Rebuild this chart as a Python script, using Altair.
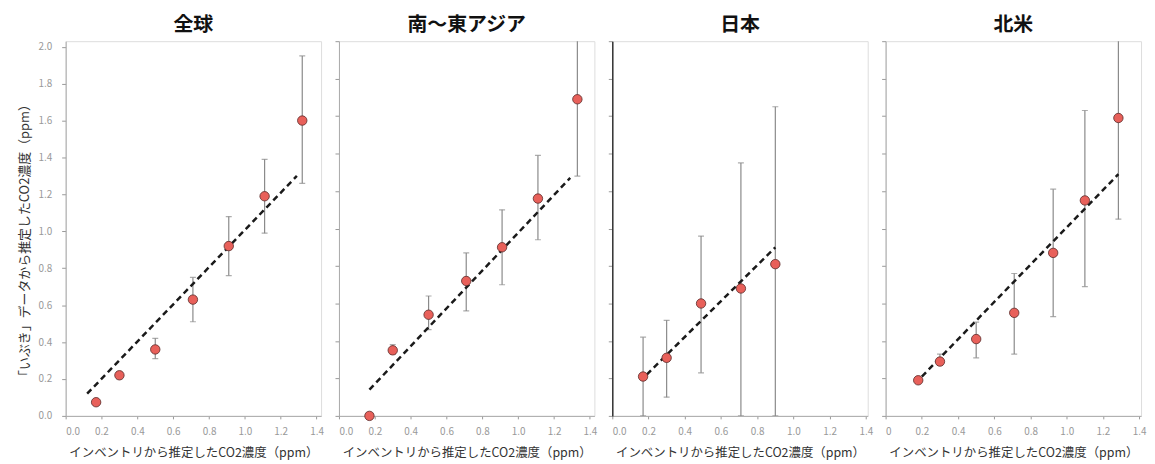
import altair as alt
import pandas as pd

regions = ["全球", "南～東アジア", "日本", "北米"]

# 全球
glob_x = [0.17, 0.30, 0.50, 0.71, 0.91, 1.11, 1.32]
glob_y = [0.074, 0.22, 0.36, 0.63, 0.92, 1.19, 1.60]
glob_lo = [0.06, 0.20, 0.31, 0.51, 0.76, 0.99, 1.26]
glob_hi = [0.09, 0.24, 0.42, 0.75, 1.08, 1.39, 1.95]
glob_fit_x = [0.12, 1.29]
glob_fit_y = [0.12, 1.30]

# 南～東アジア
sea_x = [0.17, 0.30, 0.50, 0.71, 0.91, 1.11, 1.33]
sea_y = [0.00, 0.35, 0.54, 0.72, 0.90, 1.16, 1.69]
sea_lo = [0.00, 0.33, 0.46, 0.56, 0.70, 0.94, 1.28]
sea_hi = [0.01, 0.38, 0.64, 0.87, 1.10, 1.39, 2.20]
sea_fit_x = [0.17, 1.29]
sea_fit_y = [0.14, 1.27]

# 日本
jpn_x = [0.17, 0.30, 0.49, 0.71, 0.90]
jpn_y = [0.21, 0.31, 0.60, 0.68, 0.81]
jpn_lo = [0.00, 0.10, 0.23, 0.00, 0.00]
jpn_hi = [0.42, 0.51, 0.96, 1.35, 1.65]
jpn_fit_x = [0.19, 0.90]
jpn_fit_y = [0.22, 0.90]

# 北米
na_x = [0.18, 0.30, 0.50, 0.71, 0.925, 1.10, 1.285]
na_y = [0.19, 0.29, 0.41, 0.55, 0.87, 1.15, 1.59]
na_lo = [0.18, 0.27, 0.31, 0.33, 0.53, 0.69, 1.05]
na_hi = [0.20, 0.33, 0.50, 0.76, 1.21, 1.63, 2.20]
na_fit_x = [0.20, 1.285]
na_fit_y = [0.21, 1.29]

x_ticks = [0.0, 0.2, 0.4, 0.6, 0.8, 1.0, 1.2, 1.4]
y_ticks = [0.0, 0.2, 0.4, 0.6, 0.8, 1.0, 1.2, 1.4, 1.6, 1.8, 2.0]

x_title = "インベントリから推定したCO2濃度（ppm）"
y_title = "「いぶき」データから推定したCO2濃度（ppm）"

FONT = "Noto Sans CJK JP"

panels = [
    (regions[0], glob_x, glob_y, glob_lo, glob_hi, glob_fit_x, glob_fit_y, 1.425, 2.03, True, "#aaaaaa", False),
    (regions[1], sea_x, sea_y, sea_lo, sea_hi, sea_fit_x, sea_fit_y, 1.425, 2.0, False, "#aaaaaa", False),
    (regions[2], jpn_x, jpn_y, jpn_lo, jpn_hi, jpn_fit_x, jpn_fit_y, 1.41, 2.0, False, "#333333", False),
    (regions[3], na_x, na_y, na_lo, na_hi, na_fit_x, na_fit_y, 1.41, 2.0, False, "#aaaaaa", True),
]


def make_panel(name, xs, ys, lo, hi, fx, fy, xmax, ymax, show_ylabels, ydomain_color, zero_label):
    df = pd.DataFrame({"x": xs, "y": ys, "lo": lo, "hi": hi})
    fit = pd.DataFrame({"x": fx, "y": fy})

    label_expr = "datum.value == 0 ? '0' : format(datum.value, '.1f')" if zero_label else "format(datum.value, '.1f')"
    xaxis = alt.Axis(values=x_ticks, labelExpr=label_expr, title=x_title, grid=False,
                     tickSize=3, tickColor="#999999", domainColor="#aaaaaa",
                     labelColor="#999999", labelFontSize=10, labelFont=FONT, labelPadding=8,
                     titleFont=FONT, titleFontSize=12.5, titleColor="#333333", titleFontWeight="normal",
                     titlePadding=10)
    if show_ylabels:
        yaxis = alt.Axis(values=y_ticks, format=".1f", title=y_title, grid=False,
                         tickSize=4, tickColor="#999999", domainColor=ydomain_color,
                         labelColor="#999999", labelFontSize=10, labelFont=FONT, labelPadding=10,
                         titleFont=FONT, titleFontSize=13, titleColor="#333333", titleFontWeight="normal",
                         titlePadding=6, titleY=200)
    else:
        yaxis = alt.Axis(values=y_ticks, labels=False, title=None, grid=False,
                         tickSize=4, tickColor="#999999", domainColor=ydomain_color,
                         domainWidth=1.5 if ydomain_color == "#333333" else 1)

    xs_ = alt.Scale(domain=[0, xmax], nice=False, zero=False)
    ys_ = alt.Scale(domain=[0, ymax], nice=False, zero=False)

    X = alt.X("x:Q", scale=xs_, axis=xaxis)
    Y = alt.Y("y:Q", scale=ys_, axis=yaxis)

    err = alt.Chart(df).mark_rule(color="#8a8a8a", strokeWidth=1.2, clip=True).encode(
        x=X, y=alt.Y("lo:Q", scale=ys_, axis=yaxis), y2="hi:Q")
    cap_lo = alt.Chart(df).mark_tick(color="#8a8a8a", orient="horizontal", size=6, thickness=1.2, clip=True).encode(
        x=X, y=alt.Y("lo:Q", scale=ys_, axis=yaxis))
    cap_hi = alt.Chart(df).mark_tick(color="#8a8a8a", orient="horizontal", size=6, thickness=1.2, clip=True).encode(
        x=X, y=alt.Y("hi:Q", scale=ys_, axis=yaxis))
    line = alt.Chart(fit).mark_line(color="#1a1a1a", strokeWidth=2.5, strokeDash=[6, 4]).encode(x=X, y=Y)
    pts = alt.Chart(df).mark_point(filled=True, fill="#e8605a", stroke="#5a2a28", strokeWidth=0.8,
                                   size=90, opacity=1, fillOpacity=1).encode(x=X, y=Y)

    return alt.layer(err, cap_lo, cap_hi, line, pts).properties(
        width=257, height=377,
        title=alt.TitleParams(name, font=FONT, fontSize=20, fontWeight="bold", color="#111111",
                              anchor="middle", offset=6),
    )


charts = [make_panel(*p) for p in panels]

chart = alt.hconcat(*charts, spacing=18, bounds="flush").properties(
    padding={"left": 10, "right": 0, "top": 5, "bottom": 0}
).configure_view(
    stroke="#aaaaaa", strokeWidth=1
).configure(background="white")

chart.save("out.html", embed_options={"renderer": "svg", "actions": False})
